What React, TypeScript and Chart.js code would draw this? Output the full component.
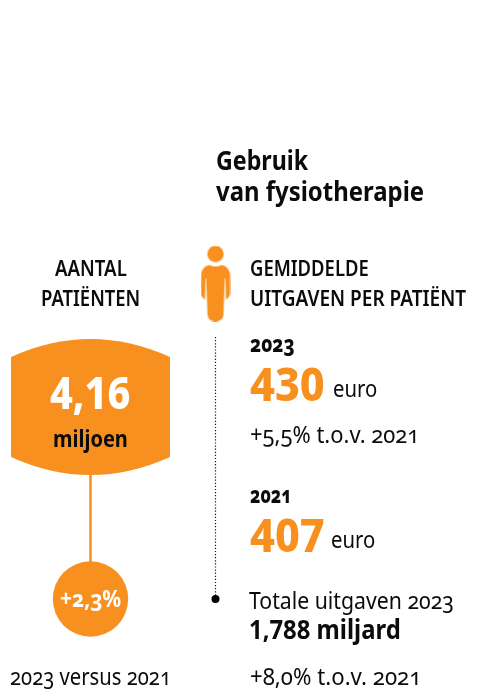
import React, { useEffect, useRef, useLayoutEffect, useState } from "react";
import { Chart, registerables } from "chart.js";

Chart.register(...registerables);

// ---- data ----
const chartTitle = ["Gebruik", "van fysiotherapie"];
const patientHeading = ["AANTAL", "PATIËNTEN"];
const spendingHeading = ["GEMIDDELDE", "UITGAVEN PER PATIËNT"];
const patientsMillions = [4.16];
const patientsUnit = "miljoen";
const patientsChangePct = [2.3];
const patientsCompare = "2023 versus 2021";
const years = ["2023", "2021"];
const spendingEuro = [430, 407];
const spendingUnit = "euro";
const spendingChange = "+5,5% t.o.v. 2021";
const totalLabel = "Totale uitgaven 2023";
const totalBillions = [1.788];
const totalUnit = "miljard";
const totalChange = "+8,0% t.o.v. 2021";

const nl = (v: number, d: number) => v.toFixed(d).replace(".", ",");

// ---- layout & style ----
const W = 477;
const H = 697;
const ORANGE = "#F7901E";
const INK = "#0b0b0b";
const FONT = '"Noto Sans", sans-serif';

function barrelImage() {
  const c = document.createElement("canvas");
  c.width = 159;
  c.height = 136;
  const g = c.getContext("2d")!;
  g.fillStyle = ORANGE;
  g.beginPath();
  g.moveTo(0, 18);
  g.quadraticCurveTo(79.5, -18, 159, 18);
  g.lineTo(159, 118);
  g.quadraticCurveTo(79.5, 154, 0, 118);
  g.closePath();
  g.fill();
  return c;
}

function personImage() {
  const c = document.createElement("canvas");
  c.width = 30;
  c.height = 76;
  const g = c.getContext("2d")!;
  g.fillStyle = ORANGE;
  g.beginPath();
  g.arc(15, 8.5, 8.2, 0, Math.PI * 2);
  g.fill();
  g.beginPath();
  g.moveTo(9, 19.5);
  g.quadraticCurveTo(15, 22.5, 21, 19.5);
  g.quadraticCurveTo(29.5, 21, 29.5, 31);
  g.lineTo(29.5, 48);
  g.quadraticCurveTo(29, 52, 25.5, 54);
  g.lineTo(25, 33);
  g.lineTo(24.3, 33);
  g.lineTo(23, 69);
  g.quadraticCurveTo(22.5, 76, 15, 76);
  g.quadraticCurveTo(7.5, 76, 7, 69);
  g.lineTo(5.7, 33);
  g.lineTo(5, 33);
  g.lineTo(4.5, 54);
  g.quadraticCurveTo(1, 52, 0.5, 48);
  g.lineTo(0.5, 31);
  g.quadraticCurveTo(0.5, 21, 9, 19.5);
  g.closePath();
  g.fill();
  return c;
}

type Txt = {
  t: string;
  x: number;
  y: number;
  size: number;
  weight: number;
  w: number;
  color?: string;
  lining?: boolean;
};

const texts: Txt[] = [
  { t: chartTitle[0], x: 216, y: 170, size: 26, weight: 700, w: 92 },
  { t: chartTitle[1], x: 216, y: 201, size: 26, weight: 700, w: 208 },
  { t: patientHeading[0], x: 55, y: 276, size: 22, weight: 600, w: 72 },
  { t: patientHeading[1], x: 41, y: 306, size: 22, weight: 600, w: 99 },
  { t: spendingHeading[0], x: 250, y: 276, size: 22, weight: 600, w: 119 },
  { t: spendingHeading[1], x: 250, y: 306, size: 22, weight: 600, w: 216 },
  { t: nl(patientsMillions[0], 2), x: 50, y: 409, size: 45, weight: 800, w: 80, color: "#fff", lining: true },
  { t: patientsUnit, x: 53, y: 447, size: 24, weight: 700, w: 75 },
  { t: "+" + nl(patientsChangePct[0], 1) + "%", x: 60, y: 607, size: 23, weight: 700, w: 61, color: "#fff" },
  { t: patientsCompare, x: 10, y: 685, size: 23, weight: 400, w: 161 },
  { t: years[0], x: 250, y: 352, size: 23, weight: 800, w: 45 },
  { t: String(spendingEuro[0]), x: 250, y: 401, size: 46, weight: 800, w: 75, color: ORANGE, lining: true },
  { t: spendingUnit, x: 333, y: 397, size: 24, weight: 400, w: 44 },
  { t: spendingChange, x: 250, y: 443, size: 23, weight: 400, w: 169 },
  { t: years[1], x: 250, y: 503, size: 23, weight: 800, w: 42 },
  { t: String(spendingEuro[1]), x: 250, y: 552, size: 46, weight: 800, w: 75, color: ORANGE, lining: true },
  { t: spendingUnit, x: 331, y: 548, size: 24, weight: 400, w: 44 },
  { t: totalLabel, x: 249, y: 609, size: 23, weight: 400, w: 205 },
  { t: nl(totalBillions[0], 3) + " " + totalUnit, x: 249, y: 639, size: 27, weight: 700, w: 152, lining: true },
  { t: totalChange, x: 250, y: 685, size: 23, weight: 400, w: 171 },
];

function Label({ s, px, py }: { s: Txt; px: number; py: number }) {
  const ref = useRef<HTMLSpanElement | null>(null);
  const [sx, setSx] = useState(1);
  useLayoutEffect(() => {
    const natural = ref.current!.offsetWidth;
    if (natural > 0) setSx(s.w / natural);
  }, []);
  return (
    <span
      ref={ref}
      style={{
        position: "absolute",
        left: px,
        // Noto Sans ascent is 1.069em: place the baseline at py
        top: py - s.size * 1.069,
        font: `${s.weight} ${s.size}px/normal ${FONT}`,
        fontVariantNumeric: s.lining ? "lining-nums" : "oldstyle-nums",
        color: s.color ?? INK,
        whiteSpace: "pre",
        transform: `scaleX(${sx})`,
        transformOrigin: "0 0",
      }}
    >
      {s.t}
    </span>
  );
}

export default function App() {
  const ref = useRef<HTMLCanvasElement | null>(null);
  const [ready, setReady] = useState<{ x: any; y: any } | null>(null);
  useEffect(() => {
    const chart = new Chart(ref.current!, {
      type: "scatter",
      data: {
        datasets: [
          {
            label: "connector",
            data: [{ x: 90.5, y: 470 }, { x: 90.5, y: 565 }],
            showLine: true,
            borderColor: ORANGE,
            borderWidth: 2.5,
            pointRadius: 0,
          },
          {
            label: "timeline",
            data: [{ x: 215.5, y: 337 }, { x: 215.5, y: 597 }],
            showLine: true,
            borderColor: "#111",
            borderWidth: 1.2,
            borderDash: [1.2, 1.9],
            pointRadius: 0,
          },
          {
            label: "patients",
            data: [{ x: 90.5, y: 407 }],
            pointStyle: barrelImage() as any,
            pointRadius: 10,
          },
          {
            label: "change",
            data: [{ x: 90.5, y: 599 }],
            pointStyle: "circle",
            pointRadius: 37.7,
            backgroundColor: ORANGE,
            borderWidth: 0,
          },
          {
            label: "end",
            data: [{ x: 215.5, y: 599 }],
            pointStyle: "circle",
            pointRadius: 4,
            backgroundColor: "#000",
            borderWidth: 0,
          },
          {
            label: "person",
            data: [{ x: 215.5, y: 283.5 }],
            pointStyle: personImage() as any,
            pointRadius: 10,
          },
        ],
      },
      options: {
        responsive: false,
        animation: false,
        layout: { padding: 0, autoPadding: false },
        plugins: { legend: { display: false }, tooltip: { enabled: false }, title: { display: false } },
        scales: {
          x: { type: "linear", min: 0, max: W, display: false },
          y: { type: "linear", min: 0, max: H, reverse: true, display: false },
        },
      },
    });
    setReady({ x: chart.scales.x, y: chart.scales.y });
    return () => chart.destroy();
  }, []);
  return (
    <div style={{ position: "fixed", inset: 0, background: "#fff", overflow: "hidden" }}>
      <canvas ref={ref} width={W} height={H} style={{ display: "block", width: W, height: H }} />
      {ready &&
        texts.map((s, i) => (
          <Label key={i} s={s} px={ready.x.getPixelForValue(s.x)} py={ready.y.getPixelForValue(s.y)} />
        ))}
    </div>
  );
}
